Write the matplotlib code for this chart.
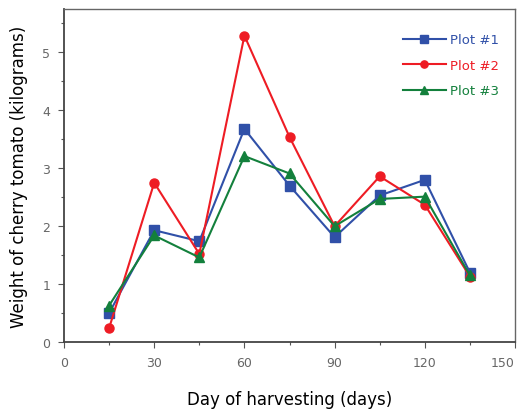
import matplotlib
matplotlib.use("Agg")
import matplotlib.pyplot as plt
from matplotlib.ticker import MultipleLocator

days = [15, 30, 45, 60, 75, 90, 105, 120, 135]
plot1 = [0.50, 1.93, 1.74, 3.68, 2.70, 1.81, 2.53, 2.80, 1.20]
plot2 = [0.24, 2.75, 1.52, 5.29, 3.54, 2.00, 2.86, 2.37, 1.13]
plot3 = [0.63, 1.84, 1.46, 3.21, 2.91, 2.00, 2.47, 2.51, 1.15]

series = [
    ("Plot #1", plot1, "#3050a8", "s"),
    ("Plot #2", plot2, "#ee1c24", "o"),
    ("Plot #3", plot3, "#13803c", "^"),
]

plt.rcParams["font.family"] = ["DejaVu Sans"]

fig = plt.figure(figsize=(5.23, 4.10), dpi=100)
ax = fig.add_axes([0.1224, 0.1634, 0.8623, 0.8122])

for name, vals, col, mk in series:
    ax.plot(days, vals, color=col, marker=mk, markersize=6.5, linewidth=1.5, label=name)

ax.set_xlim(0, 150)
ax.set_ylim(0, 5.75)
ax.xaxis.set_major_locator(MultipleLocator(30))
ax.xaxis.set_minor_locator(MultipleLocator(15))
ax.yaxis.set_major_locator(MultipleLocator(1))
ax.yaxis.set_minor_locator(MultipleLocator(0.5))
ax.tick_params(which="major", direction="out", length=4, width=0.8, color="#555555",
               labelsize=9, labelcolor="#666666", pad=6)
ax.tick_params(which="minor", direction="out", length=2.5, width=0.8, color="#555555")
ax.set_xticks([0, 30, 60, 90, 120, 150])
ax.set_xticklabels(["0", "30", "60", "90", "120", "150"])
ax.get_xticklabels()[-1].set_horizontalalignment("right")

for s in ("left", "bottom"):
    ax.spines[s].set_linewidth(1.3)
    ax.spines[s].set_color("#444444")
for s in ("top", "right"):
    ax.spines[s].set_linewidth(1.0)
    ax.spines[s].set_color("#666666")

ax.set_xlabel("Day of harvesting (days)", fontsize=12, labelpad=15)
ax.set_ylabel("Weight of cherry tomato (kilograms)", fontsize=12, labelpad=10)

leg = ax.legend(loc="upper right", bbox_to_anchor=(1.0, 0.975), frameon=False,
                fontsize=9.5, handlelength=3.3, labelspacing=0.95,
                borderaxespad=0.8, handletextpad=0.3, markerscale=0.8)
for txt, (_, _, col, _) in zip(leg.get_texts(), series):
    txt.set_color(col)

fig.savefig("out.png", dpi=100)
